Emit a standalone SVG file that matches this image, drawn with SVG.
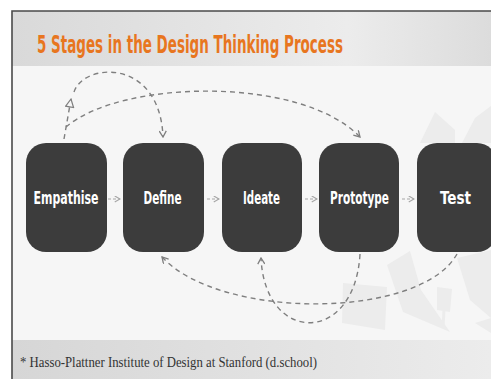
<svg xmlns="http://www.w3.org/2000/svg" width="491" height="379" viewBox="0 0 491 379">
  <style>
    .box { fill: #3c3c3c; }
    .lbl { fill: #ffffff; font-family: "Liberation Sans Narrow", "DejaVu Sans Condensed", "Liberation Sans", sans-serif; font-stretch: condensed; font-weight: bold; font-size: 17px; text-anchor: middle; }
    .dash { fill: none; stroke: #7f7f7f; stroke-width: 1.4; stroke-dasharray: 5 4; }
    .step { fill: none; stroke: #a6a6a6; stroke-width: 1.2; stroke-dasharray: 3 2; }
    .deco { fill: #ececec; }
  </style>
  <defs>
    <linearGradient id="hdr" x1="0" y1="0" x2="1" y2="0">
      <stop offset="0" stop-color="#d9d9d9"/>
      <stop offset="0.7" stop-color="#ececec"/>
      <stop offset="1" stop-color="#dcdcdc"/>
    </linearGradient>
    <linearGradient id="ftr" x1="0" y1="0" x2="1" y2="0">
      <stop offset="0" stop-color="#d6d6d6"/>
      <stop offset="1" stop-color="#ececec"/>
    </linearGradient>
    <marker id="chev" viewBox="0 0 8 8" refX="7" refY="4" markerWidth="8" markerHeight="8" markerUnits="userSpaceOnUse" orient="auto">
      <path d="M1,0.5 L7,4 L1,7.5" fill="none" stroke="#7f7f7f" stroke-width="1.3"/>
    </marker>
    <marker id="chevs" viewBox="0 0 8 8" refX="7" refY="4" markerWidth="7" markerHeight="7" markerUnits="userSpaceOnUse" orient="auto">
      <path d="M1,0.5 L7,4 L1,7.5" fill="none" stroke="#a6a6a6" stroke-width="1.3"/>
    </marker>
    <marker id="tri" viewBox="0 0 10 10" refX="9" refY="5" markerWidth="10" markerHeight="10" markerUnits="userSpaceOnUse" orient="auto">
      <path d="M1,1 L9,5 L1,9 Z" fill="#f6f6f6" stroke="#7f7f7f" stroke-width="1.2"/>
    </marker>
  </defs>

  <!-- page -->
  <rect x="0" y="0" width="491" height="379" fill="#ffffff"/>
  <rect x="12" y="11" width="479" height="368" fill="#f6f6f6"/>
  <rect x="12" y="11" width="479" height="55" fill="url(#hdr)"/>
  <rect x="12" y="340" width="479" height="39" fill="url(#ftr)"/>

  <!-- faint background decoration -->
  <g id="decoration">
    <polygon class="deco" points="420,143 435,112 455,130 455,143"/>
    <polygon class="deco" points="462,143 475,118 491,106 491,143"/>
    <polygon class="deco" points="343,283 387,287 385,330 342,323"/>
    <polygon class="deco" points="387,265 410,251 421,290 450,332 403,312"/>
    <polygon class="deco" points="437,287 452,289 450,312 437,310"/>
    <line x1="444" y1="310" x2="443" y2="328" stroke="#ececec" stroke-width="3"/>
    <polygon class="deco" points="457,258 491,250 491,318 470,300"/>
    <polygon class="deco" points="475,323 491,318 491,333"/>
  </g>

  <!-- frame -->
  <path d="M12,379 L12,11 L491,11" fill="none" stroke="#4a4a4a" stroke-width="1.6"/>

  <!-- title -->
  <text transform="translate(37,53) scale(0.6,1)" x="0" y="0" font-family="'DejaVu Sans', 'Liberation Sans', sans-serif" font-weight="bold" font-size="25" fill="#e8761f" textLength="510" lengthAdjust="spacingAndGlyphs">5 Stages in the Design Thinking Process</text>

  <!-- connectors -->
  <g id="connectors">
    <path class="dash" d="M64,139 L71,99" marker-end="url(#tri)"/>
    <path class="dash" d="M74,92 C84,62 160,58 163,137" marker-end="url(#chev)"/>
    <path class="dash" d="M66,127 C120,80 300,75 360,137" marker-end="url(#chev)"/>
    <path class="dash" d="M457,254 C420,320 220,320 162,257" marker-end="url(#chev)"/>
    <path class="dash" d="M360,254 C355,345 265,345 261,258" marker-end="url(#chev)"/>
    <path class="step" d="M108,199 L120,199" marker-end="url(#chevs)"/>
    <path class="step" d="M207,199 L219,199" marker-end="url(#chevs)"/>
    <path class="step" d="M305,199 L317,199" marker-end="url(#chevs)"/>
    <path class="step" d="M402,199 L414,199" marker-end="url(#chevs)"/>
  </g>

  <!-- nodes -->
  <g id="node-empathise">
    <rect class="box" x="26" y="143" width="81" height="109" rx="20" ry="20"/>
    <text class="lbl" x="66" y="204" textLength="65" lengthAdjust="spacingAndGlyphs">Empathise</text>
  </g>
  <g id="node-define">
    <rect class="box" x="123" y="143" width="81" height="109" rx="20" ry="20"/>
    <text class="lbl" x="162.5" y="204" textLength="38" lengthAdjust="spacingAndGlyphs">Define</text>
  </g>
  <g id="node-ideate">
    <rect class="box" x="222" y="143" width="80" height="109" rx="20" ry="20"/>
    <text class="lbl" x="261.5" y="204" textLength="37" lengthAdjust="spacingAndGlyphs">Ideate</text>
  </g>
  <g id="node-prototype">
    <rect class="box" x="319" y="143" width="80" height="109" rx="20" ry="20"/>
    <text class="lbl" x="359.5" y="204" textLength="59" lengthAdjust="spacingAndGlyphs">Prototype</text>
  </g>
  <g id="node-test">
    <rect class="box" x="417" y="143" width="80" height="109" rx="20" ry="20"/>
    <text class="lbl" x="455.5" y="204" textLength="31" lengthAdjust="spacingAndGlyphs">Test</text>
  </g>

  <!-- footer -->
  <text x="20" y="367" font-family="'Liberation Serif', 'DejaVu Serif', serif" font-size="14" fill="#333333" textLength="297" lengthAdjust="spacingAndGlyphs">* Hasso-Plattner Institute of Design at Stanford (d.school)</text>
</svg>
